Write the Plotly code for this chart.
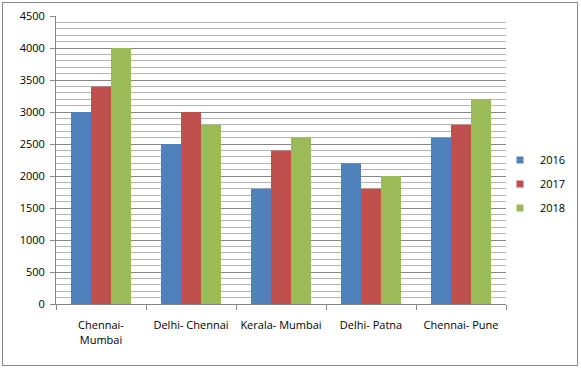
import plotly.graph_objects as go

categories = ["Chennai-<br>Mumbai", "Delhi- Chennai", "Kerala- Mumbai", "Delhi- Patna", "Chennai- Pune"]
years = ["2016", "2017", "2018"]
v2016 = [3000, 2500, 1800, 2200, 2600]
v2017 = [3400, 3000, 2400, 1800, 2800]
v2018 = [4000, 2800, 2600, 2000, 3200]
colors = ["#4F81BD", "#C0504D", "#9BBB59"]

W, H = 581, 368
L, R, T, B = 56, 75, 16, 64
pw, ph = W - L - R, H - T - B

fig = go.Figure()
for name, vals, c in zip(years, [v2016, v2017, v2018], colors):
    fig.add_trace(go.Bar(x=categories, y=vals, name=name, marker_color=c,
                         marker_line_width=0, showlegend=False))
for i, (name, c) in enumerate(zip(years, colors)):
    fig.add_trace(go.Scatter(x=[None], y=[None], mode="markers", name=name,
                             marker=dict(symbol="square", size=7, color=c),
                             legendgroup=name, showlegend=True))

fnt = dict(family="Open Sans, Lato, DejaVu Sans", size=11, color="#000000")
fig.update_layout(
    width=W, height=H,
    margin=dict(l=L, r=R, t=T, b=B, autoexpand=False),
    paper_bgcolor="white", plot_bgcolor="white",
    font=fnt,
    barmode="group", bargap=0.333, bargroupgap=0,
    xaxis=dict(showgrid=False, showline=True, linecolor="#868686", linewidth=1,
               ticks="outside", tickson="boundaries", ticklen=5, tickcolor="#868686",
               tickfont=fnt, tickangle=0, automargin=False, ticklabelstandoff=11,
               fixedrange=True),
    yaxis=dict(range=[0, 4500], dtick=500, showgrid=True, gridcolor="#868686", gridwidth=1,
               showline=True, linecolor="#868686", linewidth=1,
               ticks="outside", ticklen=5, tickcolor="#868686", tickfont=fnt,
               zeroline=False, automargin=False, ticklabelstandoff=3,
               minor=dict(dtick=100, showgrid=True, gridcolor="#b4b4b4", gridwidth=1, ticks=""),
               fixedrange=True),
    legend=dict(xref="container", yref="container", x=500 / W, y=(H - 184) / H,
                xanchor="left", yanchor="middle",
                font=fnt, traceorder="grouped", tracegroupgap=5, itemwidth=30,
                bgcolor="rgba(0,0,0,0)"),
    shapes=[dict(type="rect", xref="paper", yref="paper",
                 x0=(2.5 - L) / pw, x1=(577.5 - L) / pw,
                 y0=(304 - 365.5) / ph, y1=(304 - 2.5) / ph,
                 line=dict(color="#868686", width=1))],
)
fig.write_html("out.html", config={"displayModeBar": False},
               post_script="document.body.style.margin='0';document.body.style.overflow='hidden';")
